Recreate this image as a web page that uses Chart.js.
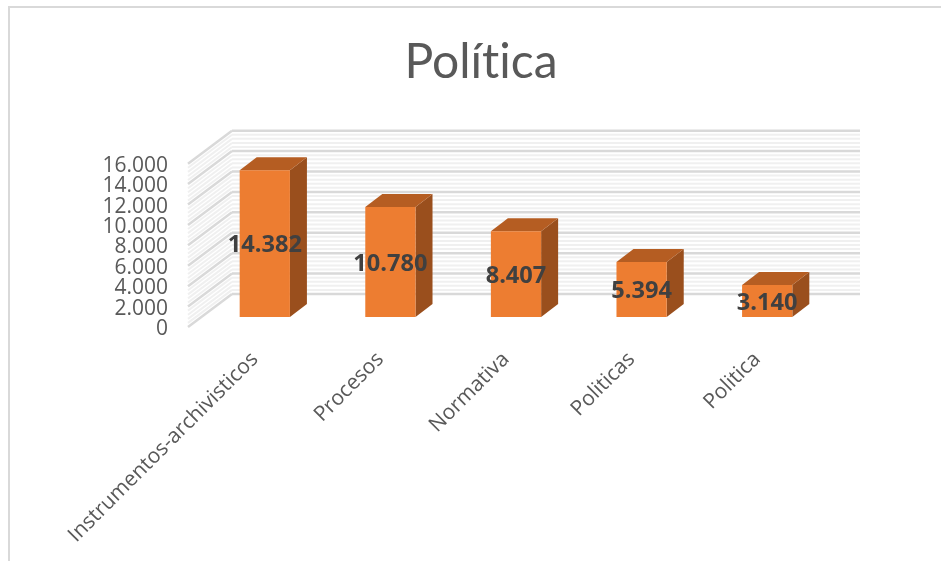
<!DOCTYPE html>
<html>
<head>
<meta charset="utf-8">
<title>Política</title>
<script src="https://cdn.jsdelivr.net/npm/chart.js@4"></script>
<style>
    html, body { margin: 0; padding: 0; background: #fff; overflow: hidden; }
    #frame { position: absolute; left: 8px; top: 6px; right: 0; bottom: 0; border-left: 2px solid #d9d9d9; border-top: 2px solid #d9d9d9; }
    canvas { position: absolute; left: 0; top: 0; }
</style>
</head>
<body>
<div id="frame"></div>
<canvas id="chart" width="941" height="561"></canvas>
<script>
const categories = ['Instrumentos-archivisticos', 'Procesos', 'Normativa', 'Politicas', 'Politica'];
const values = [14382, 10780, 8407, 5394, 3140];
const yMax = 16000;
const yStep = 2000;
const minorStep = 400;

const frontColor = '#ed7d31';
const sideColor = '#9a4f1d';
const topColor = '#b55d22';
const textColor = '#595959';
const fontFamily = '"Open Sans", sans-serif';

// pixel offsets of the 3D projection, measured from the bars' base line
const wallFront = { x: 188, dy: 10 };
const wallBack = { x: 232, dy: -23 };
const wallRight = 860;
const barDepth = { x: 17, y: -13 };

const formatNumber = (v) => v.toLocaleString('de-DE');

const line = (c, x1, y1, x2, y2) => {
    c.beginPath();
    c.moveTo(x1, y1);
    c.lineTo(x2, y2);
    c.stroke();
};

const face = (c, points, color) => {
    c.fillStyle = color;
    c.beginPath();
    points.forEach((p, i) => (i ? c.lineTo(p[0], p[1]) : c.moveTo(p[0], p[1])));
    c.closePath();
    c.fill();
};

const walls = {
    id: 'walls',
    // left padding keeps the title centred, so let the y labels draw past the axis box
    afterLayout(chart) {
        chart.scales.y.left = 0;
    },
    // no "ti" ligature in the Lato title
    beforeDraw(chart) {
        chart.ctx.textRendering = 'optimizeSpeed';
    },
    beforeDatasetsDraw(chart) {
        const c = chart.ctx;
        const y = chart.scales.y;
        c.save();
        // minor lines first so the major ones sit on top
        for (let v = 0; v <= yMax; v += minorStep) {
            if (v % yStep === 0) continue;
            const py = y.getPixelForValue(v);
            c.strokeStyle = '#f0f0f0';
            c.lineWidth = 2;
            line(c, wallFront.x, py + wallFront.dy, wallBack.x, py + wallBack.dy);
            line(c, wallBack.x, py + wallBack.dy, wallRight, py + wallBack.dy);
        }
        y.ticks.forEach((tick) => {
            const py = y.getPixelForValue(tick.value);
            c.strokeStyle = '#d9d9d9';
            c.lineWidth = 2.5;
            line(c, wallFront.x, py + wallFront.dy, wallBack.x, py + wallBack.dy);
            line(c, wallBack.x, py + wallBack.dy, wallRight, py + wallBack.dy);
        });
        c.restore();
    }
};

const bars3d = {
    id: 'bars3d',
    beforeDatasetsDraw(chart) {
        const c = chart.ctx;
        chart.getDatasetMeta(0).data.forEach((bar) => {
            const l = bar.x - bar.width / 2;
            const r = bar.x + bar.width / 2;
            const t = bar.y;
            const b = bar.base;
            const dx = barDepth.x;
            const dy = barDepth.y;
            face(c, [[r, t], [r + dx, t + dy], [r + dx, b + dy], [r, b]], sideColor);
            face(c, [[l, t], [l + dx, t + dy], [r + dx, t + dy], [r, t]], topColor);
        });
    },
    afterDatasetsDraw(chart) {
        const c = chart.ctx;
        c.save();
        c.font = 'bold 23.6px ' + fontFamily;
        c.fillStyle = '#404040';
        c.textAlign = 'center';
        c.textBaseline = 'middle';
        chart.getDatasetMeta(0).data.forEach((bar, i) => {
            c.fillText(formatNumber(values[i]), bar.x, (bar.y + bar.base) / 2 + 2);
        });
        c.restore();
    }
};

new Chart(document.getElementById('chart').getContext('2d'), {
    type: 'bar',
    data: {
        labels: categories,
        datasets: [{
            data: values,
            backgroundColor: frontColor,
            barPercentage: 0.4,
            categoryPercentage: 1
        }]
    },
    options: {
        responsive: false,
        animation: false,
        devicePixelRatio: 1,
        layout: { padding: { left: 132, right: 111, top: 0, bottom: 0 } },
        plugins: {
            legend: { display: false },
            tooltip: { enabled: false },
            title: {
                display: true,
                text: 'Política',
                color: textColor,
                font: { family: 'Lato, sans-serif', size: 48, weight: 'normal' },
                padding: { top: 34, bottom: 62.1 }
            }
        },
        scales: {
            x: {
                grid: { display: false },
                border: { display: false },
                ticks: {
                    color: textColor,
                    font: { family: fontFamily, size: 21 },
                    minRotation: 45,
                    maxRotation: 45,
                    autoSkip: false,
                    padding: 22,
                    labelOffset: -10
                },
                afterFit(s) {
                    s.height = 244;
                    s.paddingLeft = 0;
                    s.paddingRight = 0;
                }
            },
            y: {
                min: 0,
                max: yMax,
                grid: { display: false, drawTicks: false },
                border: { display: false },
                ticks: {
                    stepSize: yStep,
                    autoSkip: false,
                    color: textColor,
                    font: { family: fontFamily, size: 21 },
                    padding: 34,
                    labelOffset: 12,
                    callback: (v) => formatNumber(v)
                },
                afterFit(s) {
                    s.width = 70;
                    s.paddingTop = 0;
                    s.paddingBottom = 0;
                }
            }
        }
    },
    plugins: [walls, bars3d]
});
</script>
</body>
</html>
